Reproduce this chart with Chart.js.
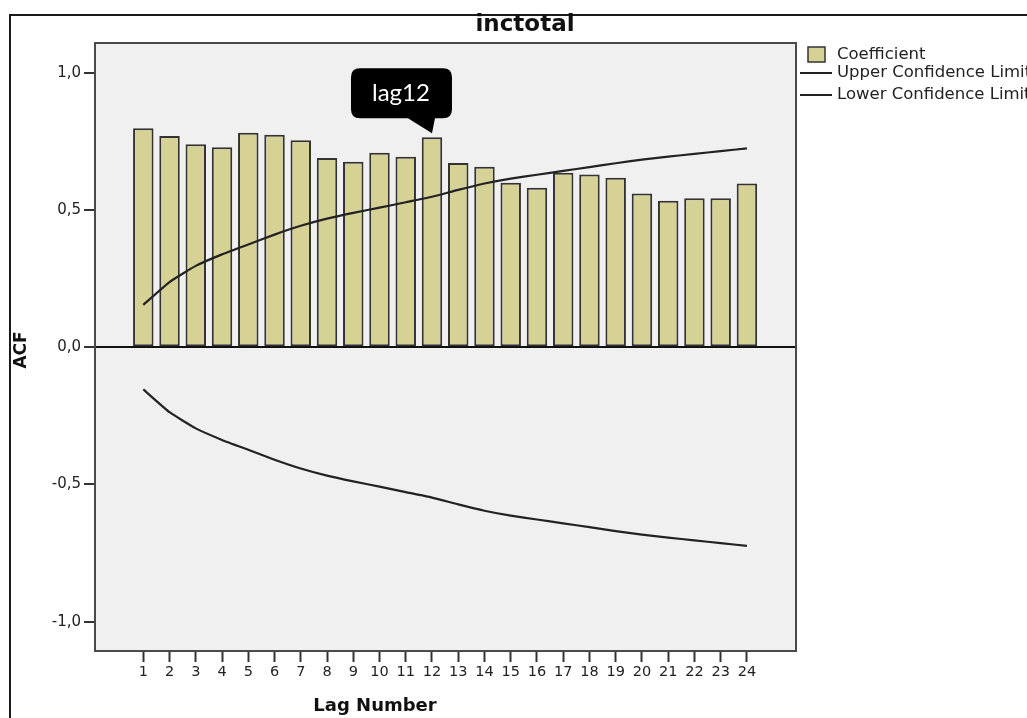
<!DOCTYPE html>
<html>
<head>
<meta charset="utf-8">
<title>inctotal ACF</title>
<script src="https://cdn.jsdelivr.net/npm/chart.js@4.4.1/dist/chart.umd.min.js"></script>
<style>
    html, body { margin: 0; padding: 0; background: #fff; }
    #wrap { width: 1027px; height: 718px; }
</style>
</head>
<body>
<div id="wrap"><canvas id="acfChart" width="1027" height="718"></canvas></div>
<script>
// Dữ liệu
const lags = [1, 2, 3, 4, 5, 6, 7, 8, 9, 10, 11, 12, 13, 14, 15, 16, 17, 18, 19, 20, 21, 22, 23, 24];
const acf = [0.797, 0.769, 0.739, 0.728, 0.781, 0.774, 0.754, 0.689, 0.675, 0.708, 0.694, 0.765,
             0.671, 0.657, 0.599, 0.581, 0.635, 0.629, 0.617, 0.560, 0.533, 0.542, 0.542, 0.596];
const upperLimit = [0.154, 0.237, 0.296, 0.338, 0.374, 0.410, 0.442, 0.468, 0.489, 0.508, 0.528, 0.548,
                    0.573, 0.596, 0.614, 0.628, 0.642, 0.656, 0.670, 0.683, 0.694, 0.704, 0.714, 0.724];
const lowerLimit = [-0.154, -0.237, -0.296, -0.338, -0.374, -0.410, -0.442, -0.468, -0.489, -0.508, -0.528, -0.548,
                    -0.573, -0.596, -0.614, -0.628, -0.642, -0.656, -0.670, -0.683, -0.694, -0.704, -0.714, -0.724];
const yTicks = [-1, -0.5, 0, 0.5, 1];
const chartTitle = 'inctotal';
const xTitle = 'Lag Number';
const yTitle = 'ACF';
const seriesNames = ['Coefficient', 'Upper Confidence Limit', 'Lower Confidence Limit'];
const calloutLag = 12;
const calloutText = 'lag12';

const barColor = '#d6d296';
const barBorder = '#333';
const lineColor = '#222';
const textFont = '"DejaVu Sans", Arial, sans-serif';

function toPoints(values) {
    return lags.map((lag, i) => ({ x: lag, y: values[i] }));
}

function formatTick(value) {
    return value.toFixed(1).replace('.', ',');
}

const decorPlugin = {
    id: 'decor',
    beforeDraw(chart) {
        const { ctx, chartArea: a } = chart;
        ctx.save();
        ctx.fillStyle = '#fff';
        ctx.fillRect(0, 0, chart.width, chart.height);
        // khung ngoài
        ctx.strokeStyle = '#1a1a1a';
        ctx.lineWidth = 2;
        ctx.strokeRect(10, 15, chart.width + 40, chart.height + 40);
        // nền vùng vẽ
        ctx.fillStyle = '#f0f0f0';
        ctx.fillRect(a.left, a.top, a.right - a.left, a.bottom - a.top);
        ctx.restore();
    },
    afterDraw(chart) {
        const { ctx, chartArea: a } = chart;
        const xs = chart.scales.x, ys = chart.scales.y;
        ctx.save();

        // viền vùng vẽ
        ctx.strokeStyle = '#4a4a4a';
        ctx.lineWidth = 2;
        ctx.strokeRect(a.left, a.top, a.right - a.left, a.bottom - a.top);

        // tiêu đề
        ctx.fillStyle = '#111';
        ctx.textAlign = 'center';
        ctx.textBaseline = 'middle';
        ctx.font = 'bold 23px ' + textFont;
        ctx.fillText(chartTitle, 525, 25);

        ctx.font = 'bold 18px ' + textFont;
        ctx.fillText(xTitle, 375, 706);

        ctx.save();
        ctx.translate(22, 350);
        ctx.rotate(-Math.PI / 2);
        ctx.font = 'bold 17px ' + textFont;
        ctx.fillText(yTitle, 0, 0);
        ctx.restore();

        // chú giải
        ctx.textAlign = 'left';
        ctx.font = '16.5px ' + textFont;
        ctx.fillStyle = barColor;
        ctx.fillRect(808, 47, 17, 15);
        ctx.strokeStyle = barBorder;
        ctx.lineWidth = 1.5;
        ctx.strokeRect(808, 47, 17, 15);
        ctx.fillStyle = '#222';
        ctx.fillText(seriesNames[0], 837, 55);
        [73, 95].forEach((y, i) => {
            ctx.strokeStyle = lineColor;
            ctx.lineWidth = 2;
            ctx.beginPath();
            ctx.moveTo(800, y);
            ctx.lineTo(832, y);
            ctx.stroke();
            ctx.fillText(seriesNames[i + 1], 837, y);
        });

        // chú thích lag12
        const idx = lags.indexOf(calloutLag);
        const tx = xs.getPixelForValue(calloutLag);
        const ty = ys.getPixelForValue(acf[idx]) - 4;
        const left = tx - 81, right = tx + 20, top = ty - 65, bottom = ty - 15, r = 9;
        ctx.fillStyle = '#000';
        ctx.beginPath();
        ctx.moveTo(left + r, top);
        ctx.lineTo(right - r, top);
        ctx.quadraticCurveTo(right, top, right, top + r);
        ctx.lineTo(right, bottom - r);
        ctx.quadraticCurveTo(right, bottom, right - r, bottom);
        ctx.lineTo(tx + 3, bottom);
        ctx.lineTo(tx, ty);
        ctx.lineTo(tx - 24, bottom);
        ctx.lineTo(left + r, bottom);
        ctx.quadraticCurveTo(left, bottom, left, bottom - r);
        ctx.lineTo(left, top + r);
        ctx.quadraticCurveTo(left, top, left + r, top);
        ctx.closePath();
        ctx.fill();
        ctx.fillStyle = '#fff';
        ctx.textAlign = 'center';
        ctx.font = '24px Lato, "Open Sans", sans-serif';
        ctx.fillText(calloutText, tx - 31, ty - 40);

        ctx.restore();
    }
};

function initAcfChart() {
    const ctx = document.getElementById('acfChart').getContext('2d');

    new Chart(ctx, {
        type: 'bar',
        data: {
            datasets: [{
                type: 'line',
                label: seriesNames[1],
                data: toPoints(upperLimit),
                borderColor: lineColor,
                borderWidth: 2.2,
                pointRadius: 0,
                tension: 0.15,
                fill: false,
                order: 0
            }, {
                type: 'line',
                label: seriesNames[2],
                data: toPoints(lowerLimit),
                borderColor: lineColor,
                borderWidth: 2.2,
                pointRadius: 0,
                tension: 0.15,
                fill: false,
                order: 0
            }, {
                type: 'bar',
                label: seriesNames[0],
                data: toPoints(acf),
                backgroundColor: barColor,
                borderColor: barBorder,
                borderWidth: 2,
                borderSkipped: false,
                categoryPercentage: 1,
                barPercentage: 0.78,
                order: 1
            }]
        },
        options: {
            responsive: false,
            animation: false,
            layout: {
                padding: { left: 0, top: 43, right: 231, bottom: 0 }
            },
            plugins: {
                legend: { display: false },
                tooltip: { enabled: false },
                title: { display: false }
            },
            scales: {
                x: {
                    type: 'linear',
                    min: -0.84,
                    max: 25.87,
                    offset: false,
                    afterBuildTicks: function(scale) {
                        scale.ticks = lags.map(v => ({ value: v }));
                    },
                    afterFit: function(scale) {
                        scale.height = 67;
                    },
                    grid: {
                        offset: false,
                        drawOnChartArea: false,
                        drawTicks: true,
                        tickLength: 11,
                        tickColor: '#333',
                        tickWidth: 2
                    },
                    border: { display: false },
                    ticks: {
                        autoSkip: false,
                        maxRotation: 0,
                        padding: 2,
                        color: '#222',
                        font: { family: textFont, size: 14.5 },
                        callback: function(value) {
                            return String(value);
                        }
                    }
                },
                y: {
                    type: 'linear',
                    min: -1.107,
                    max: 1.108,
                    afterBuildTicks: function(scale) {
                        scale.ticks = yTicks.map(v => ({ value: v }));
                    },
                    afterFit: function(scale) {
                        scale.width = 95;
                    },
                    grid: {
                        drawOnChartArea: true,
                        drawTicks: true,
                        tickLength: 11,
                        tickColor: '#333',
                        tickWidth: 2,
                        lineWidth: 2,
                        color: function(context) {
                            return context.tick && context.tick.value === 0 ? '#111' : 'rgba(0,0,0,0)';
                        }
                    },
                    border: { display: false },
                    ticks: {
                        padding: 3,
                        color: '#222',
                        font: { family: textFont, size: 15 },
                        callback: function(value) {
                            return formatTick(value);
                        }
                    }
                }
            }
        },
        plugins: [decorPlugin]
    });
}

initAcfChart();
</script>
</body>
</html>
